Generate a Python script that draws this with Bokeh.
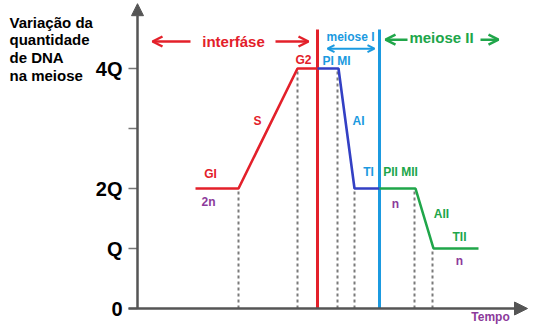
from bokeh.plotting import figure
from bokeh.models import Arrow, OpenHead, NormalHead
from bokeh.core.properties import value
from bokeh.embed import file_html
from bokeh.resources import INLINE

# ---------------- data ----------------
# time axis (arbitrary units), DNA amount in units of Q
interphase_t = [58, 101, 160, 180]
interphase_q = [2, 2, 4, 4]
meiosis1_t = [180, 201, 217, 242]
meiosis1_q = [4, 4, 2, 2]
meiosis2_t = [242, 278, 296, 341]
meiosis2_q = [2, 2, 1, 1]

boundary_t = [101, 160, 200, 217, 277, 295]
boundary_q = [2, 4, 4, 2, 2, 1]

divider_t = [180, 242]          # end of interphase, end of meiosis I
divider_top = 4.65

tick_values = [0, 1, 2, 3, 4]
tick_label_values = [0, 1, 2, 4]
tick_labels = ["0", "Q", "2Q", "4Q"]

title_lines = ["Variação da", "quantidade", "de DNA", "na meiose"]

phase_labels = ["G2", "PI MI", "S", "AI", "GI", "TI", "PII MII", "AII", "TII"]
phase_label_t = [166, 199, 120, 221, 73, 231, 263, 304, 322]
phase_label_q = [4.15, 4.13, 3.12, 3.12, 2.25, 2.27, 2.27, 1.58, 1.2]

ploidy_labels = ["2n", "n", "n"]
ploidy_t = [71, 258, 322]
ploidy_q = [1.77, 1.75, 0.8]

# ---------------- style ----------------
RED = "#e3202a"
DBLUE = "#3340c4"
LBLUE = "#1b9ae0"
GREEN = "#20a64a"
PURPLE = "#8c3a9b"
AXIS = "#555555"
FONT = value("Liberation Sans")

p = figure(width=549, height=331, x_range=(-137, 412), y_range=(-23 / 60, 308 / 60),
           output_backend="svg", toolbar_location=None,
           x_axis_location=None, y_axis_location=None, min_border=0)
p.grid.visible = False
p.outline_line_color = None
p.background_fill_color = "white"

# dashed phase boundaries
p.segment(x0=boundary_t, y0=[0] * len(boundary_t), x1=boundary_t, y1=boundary_q,
          line_color="#7a7a7a", line_width=2, line_dash="3 3")

# dividers
p.segment(x0=[divider_t[0]], y0=[0], x1=[divider_t[0]], y1=[divider_top], line_color=RED, line_width=3)
p.segment(x0=[divider_t[1]], y0=[0], x1=[divider_t[1]], y1=[divider_top], line_color=LBLUE, line_width=3)

# DNA curve
p.line(interphase_t, interphase_q, line_color=RED, line_width=2.6)
p.line(meiosis1_t, meiosis1_q, line_color=DBLUE, line_width=2.6)
p.line(meiosis2_t, meiosis2_q, line_color=GREEN, line_width=2.6)

# axes (drawn)
p.add_layout(Arrow(end=NormalHead(size=12, fill_color=AXIS, line_color=AXIS),
                   x_start=0, y_start=0, x_end=0, y_end=5.08, line_color=AXIS, line_width=2.5))
p.add_layout(Arrow(end=NormalHead(size=13, fill_color=AXIS, line_color=AXIS),
                   x_start=-9, y_start=0, x_end=390, y_end=0, line_color=AXIS, line_width=2.5))
p.segment(x0=[-9] * len(tick_values), y0=tick_values, x1=[0] * len(tick_values), y1=tick_values,
          line_color="#777777", line_width=1.5)
p.text(x=[-15] * len(tick_label_values), y=tick_label_values, text=tick_labels,
       text_font=FONT, text_font_style="bold", text_font_size="20px", text_color="black",
       text_align="right", text_baseline="alphabetic")
p.text(x=[353], y=[-0.14], text=["Tempo"], text_font=FONT, text_font_style="bold",
       text_font_size="12px", text_color=PURPLE, text_align="center", text_baseline="middle")

# title
p.text(x=[-128] * 4, y=[4.767, 4.483, 4.183, 3.883], text=title_lines,
       text_font=FONT, text_font_style="bold", text_font_size="15px", text_color="black",
       text_align="left", text_baseline="alphabetic")

# headers
p.text(x=[96], y=[4.45], text=["interfáse"], text_font=FONT, text_font_style="bold",
       text_font_size="15px", text_color=RED, text_align="center", text_baseline="middle")
p.text(x=[213], y=[4.52], text=["meiose I"], text_font=FONT, text_font_style="bold",
       text_font_size="12px", text_color=LBLUE, text_align="center", text_baseline="middle")
p.text(x=[304], y=[4.52], text=["meiose II"], text_font=FONT, text_font_style="bold",
       text_font_size="15px", text_color=GREEN, text_align="center", text_baseline="middle")

def arrow(x0, y0, x1, y1, color, both=False, size=10, lw=2.5):
    kw = dict(end=OpenHead(size=size, line_color=color, line_width=lw))
    if both:
        kw["start"] = OpenHead(size=size, line_color=color, line_width=lw)
    p.add_layout(Arrow(x_start=x0, y_start=y0, x_end=x1, y_end=y1,
                       line_color=color, line_width=lw, **kw))

arrow(53, 4.45, 15, 4.45, RED)
arrow(138, 4.45, 171, 4.45, RED)
arrow(190, 4.33, 237, 4.33, LBLUE, both=True, size=7, lw=2)
arrow(270, 4.48, 248, 4.48, GREEN)
arrow(343, 4.48, 361, 4.48, GREEN)

# phase labels
colors = [RED, LBLUE, RED, LBLUE, RED, LBLUE, GREEN, GREEN, GREEN]
p.text(x=phase_label_t, y=phase_label_q, text=phase_labels, text_color=colors,
       text_font=FONT, text_font_style="bold", text_font_size="12px",
       text_align="center", text_baseline="middle")
p.text(x=ploidy_t, y=ploidy_q, text=ploidy_labels, text_color=PURPLE,
       text_font=FONT, text_font_style="bold", text_font_size="12px",
       text_align="center", text_baseline="middle")

open("out.html", "w").write(file_html(p, INLINE))
